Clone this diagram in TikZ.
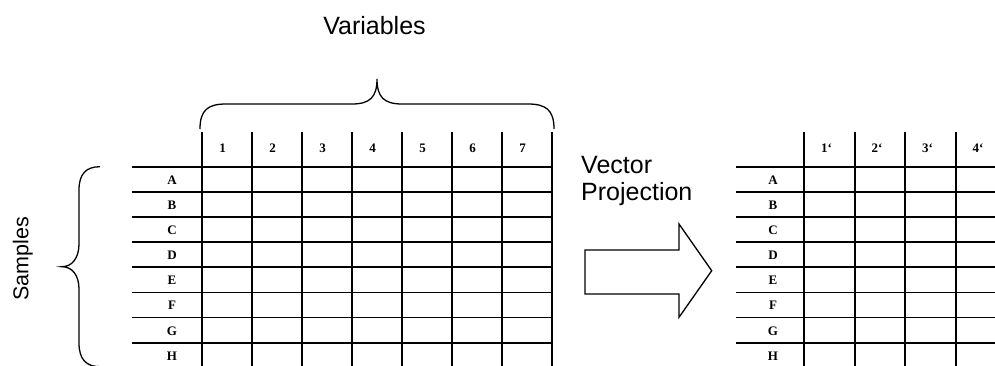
\documentclass[tikz,border=0pt]{standalone}
\usepackage{fontspec}
\setmainfont{Liberation Serif}
\newfontfamily\arialfont{Liberation Sans}
\begin{document}
\begin{tikzpicture}[x=1pt,y=-1pt,
  gridline/.style={line width=1.7pt},
  lbl/.style={font=\fontsize{13}{13}\selectfont\bfseries, inner sep=0pt},
  bigtext/.style={font=\arialfont\fontsize{25}{27.5}\selectfont, inner sep=0pt},
  outline/.style={line width=1.3pt, line join=miter}]
\useasboundingbox (0,0) rectangle (995,365);

% ---------- left table ----------
\foreach \i in {0,...,7}
  \draw[gridline] (131.7,{166.7+25.14*\i}) -- (552.5,{166.7+25.14*\i});
\foreach \k in {0,...,7}
  \draw[gridline] ({201.7+50*\k},132) -- ({201.7+50*\k},367);
\foreach \t [count=\k] in {1,...,7}
  \node[lbl] (lc\k) at ({222.7+50*(\k-1)},148) {\t};
\foreach \t [count=\i] in {A,B,C,D,E,F,G,H}
  \node[lbl] (lr\t) at (172,{166.7+25.14*(\i-1)+13.3}) {\t};

% ---------- right table ----------
\foreach \i in {0,...,7}
  \draw[gridline] (736,{166.7+25.14*\i}) -- (996,{166.7+25.14*\i});
\foreach \k in {0,...,3}
  \draw[gridline] ({804.3+50.5*\k},132) -- ({804.3+50.5*\k},367);
\foreach \t [count=\k] in {1,2,3,4}
  \node[lbl] (rc\k) at ({826.5+50.5*(\k-1)},148) {\t‘};
\foreach \t [count=\i] in {A,B,C,D,E,F,G,H}
  \node[lbl] (rr\t) at (773,{166.7+25.14*(\i-1)+13.3}) {\t};

% ---------- braces ----------
\draw[outline] (200,129) .. controls (200,110) and (208,104) .. (226,104)
  -- (352,104) .. controls (370,104) and (377,97) .. (377,79)
  .. controls (377,97) and (384,104) .. (402,104)
  -- (528,104) .. controls (546,104) and (554,110) .. (554,129);
\draw[outline] (100,166.7) .. controls (86,166.7) and (79,174) .. (79,190)
  -- (79,244) .. controls (79,258) and (72,266.7) .. (62,266.7)
  .. controls (72,266.7) and (79,275) .. (79,289)
  -- (79,343) .. controls (79,359) and (86,366.7) .. (100,366.7);

% ---------- arrow ----------
\draw[outline] (585,250) -- (679,250) -- (679,224) -- (711.7,270.7)
  -- (679,317.3) -- (679,294) -- (585,294) -- cycle;

% ---------- texts ----------
\node[bigtext, anchor=base] (vars) at (374.5,34.3) {Variables};
\node[bigtext, anchor=base west] (vec) at (581,173.3) {Vector};
\node[bigtext, anchor=base west] (proj) at (581,200.7) {Projection};
\node[bigtext, font=\arialfont\fontsize{21.5}{24}\selectfont, rotate=90, anchor=base] (samp) at (28.3,259) {Samples};
\end{tikzpicture}
\end{document}
